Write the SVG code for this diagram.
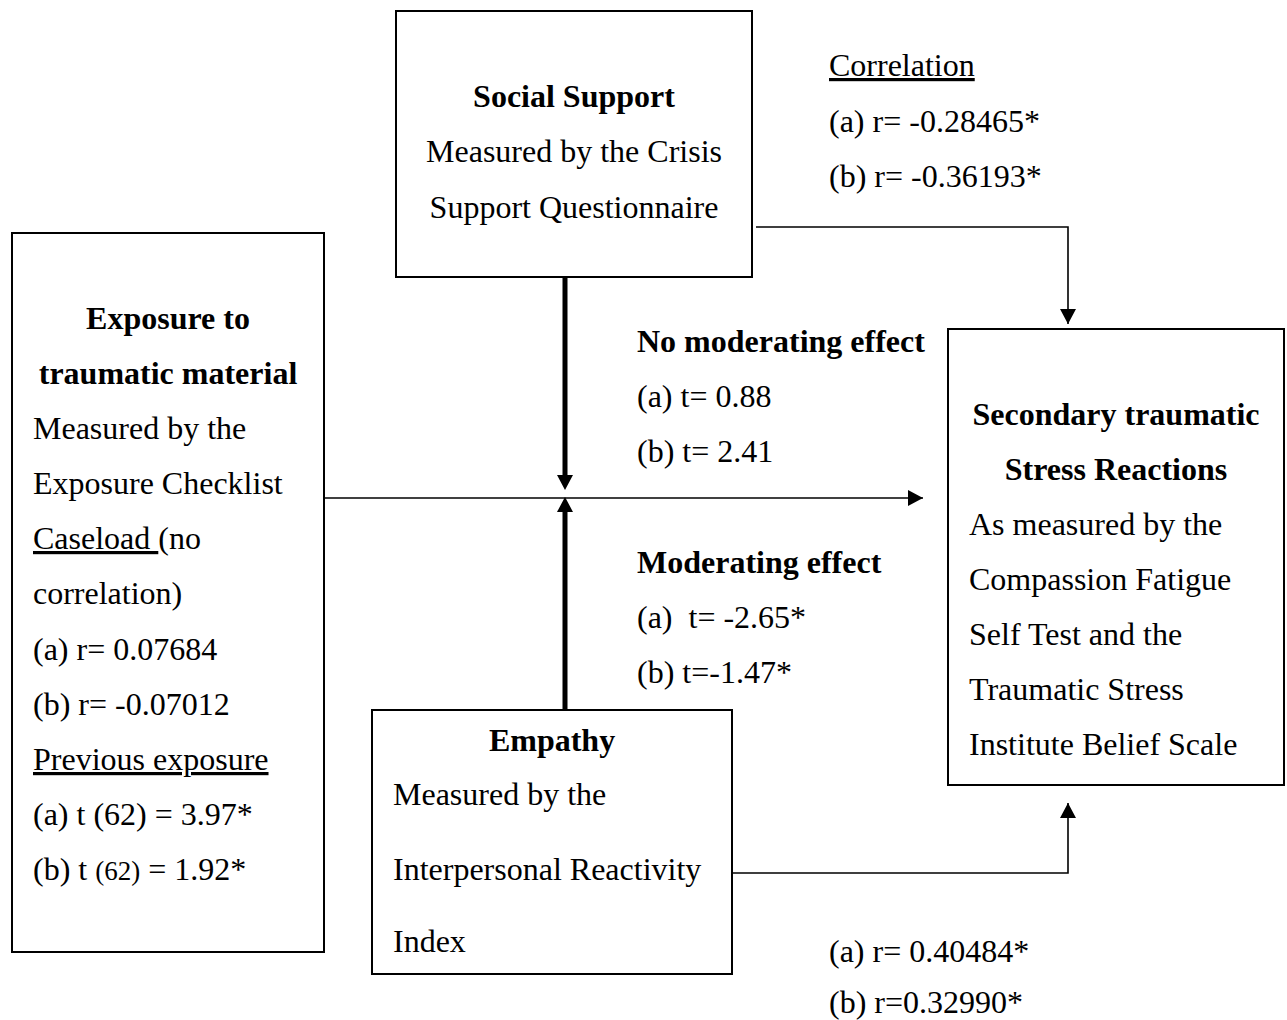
<svg xmlns="http://www.w3.org/2000/svg" width="1287" height="1020" viewBox="0 0 1287 1020">
  <style>
    text { font-family: "Liberation Serif", "Times New Roman", serif; font-size: 32px; fill: #000; }
    .b { font-weight: bold; }
    .c { text-anchor: middle; }
    .u { text-decoration: underline; }
    .box { fill: #fff; stroke: #000; stroke-width: 2; }
    .thin { fill: none; stroke: #000; stroke-width: 1.6; }
    .thick { fill: none; stroke: #000; stroke-width: 5; }
  </style>
  <defs>
    <marker id="arrow" markerUnits="userSpaceOnUse" markerWidth="16" markerHeight="16" refX="15" refY="8" orient="auto">
      <path d="M0,0 L15,8 L0,16 Z" fill="#000"/>
    </marker>
  </defs>
  <rect width="1287" height="1020" fill="#fff"/>

  <!-- connectors -->
  <g id="connectors">
    <path class="thin" d="M324,498 H923" marker-end="url(#arrow)"/>
    <path class="thin" d="M756,227 H1068 V324" marker-end="url(#arrow)"/>
    <path class="thin" d="M733,873 H1068 V803" marker-end="url(#arrow)"/>
    <path class="thick" d="M565,277 V476"/>
    <path d="M557,475 L573,475 L565,490 Z" fill="#000"/>
    <path class="thick" d="M565,710 V511"/>
    <path d="M557,512 L573,512 L565,497 Z" fill="#000"/>
  </g>

  <!-- social support -->
  <g id="social-support">
    <rect class="box" x="396" y="11" width="356" height="266"/>
    <text class="b c" x="574" y="107">Social Support</text>
    <text class="c" x="574" y="162">Measured by the Crisis</text>
    <text class="c" x="574" y="218">Support Questionnaire</text>
  </g>

  <!-- exposure -->
  <g id="exposure">
    <rect class="box" x="12" y="233" width="312" height="719"/>
    <text class="b c" x="168" y="329">Exposure to</text>
    <text class="b c" x="168" y="384">traumatic material</text>
    <text x="33" y="439">Measured by the</text>
    <text x="33" y="494">Exposure Checklist</text>
    <text x="33" y="549"><tspan class="u">Caseload </tspan>(no</text>
    <text x="33" y="604">correlation)</text>
    <text x="33" y="660">(a) r= 0.07684</text>
    <text x="33" y="715">(b) r= -0.07012</text>
    <text x="33" y="770" class="u">Previous exposure</text>
    <text x="33" y="825">(a) t (62) = 3.97*</text>
    <text x="33" y="880">(b) t <tspan font-size="27">(62)</tspan> = 1.92*</text>
  </g>

  <!-- empathy -->
  <g id="empathy">
    <rect class="box" x="372" y="710" width="360" height="264"/>
    <text class="b c" x="552" y="751">Empathy</text>
    <text x="393" y="805">Measured by the</text>
    <text x="393" y="880">Interpersonal Reactivity</text>
    <text x="393" y="952">Index</text>
  </g>

  <!-- secondary traumatic stress -->
  <g id="secondary-stress">
    <rect class="box" x="948" y="329" width="336" height="456"/>
    <text class="b c" x="1116" y="425">Secondary traumatic</text>
    <text class="b c" x="1116" y="480">Stress Reactions</text>
    <text x="969" y="535">As measured by the</text>
    <text x="969" y="590">Compassion Fatigue</text>
    <text x="969" y="645">Self Test and the</text>
    <text x="969" y="700">Traumatic Stress</text>
    <text x="969" y="755">Institute Belief Scale</text>
  </g>

  <!-- correlation labels -->
  <g id="correlation-social">
    <text x="829" y="76" class="u">Correlation</text>
    <text x="829" y="132">(a) r= -0.28465*</text>
    <text x="829" y="187">(b) r= -0.36193*</text>
  </g>

  <g id="moderation-social">
    <text class="b" x="637" y="352">No moderating effect</text>
    <text x="637" y="407">(a) t= 0.88</text>
    <text x="637" y="462">(b) t= 2.41</text>
  </g>

  <g id="moderation-empathy">
    <text class="b" x="637" y="573">Moderating effect</text>
    <text x="637" y="628">(a) &#160;t= -2.65*</text>
    <text x="637" y="683">(b) t=-1.47*</text>
  </g>

  <g id="correlation-empathy">
    <text x="829" y="962">(a) r= 0.40484*</text>
    <text x="829" y="1013">(b) r=0.32990*</text>
  </g>
</svg>
